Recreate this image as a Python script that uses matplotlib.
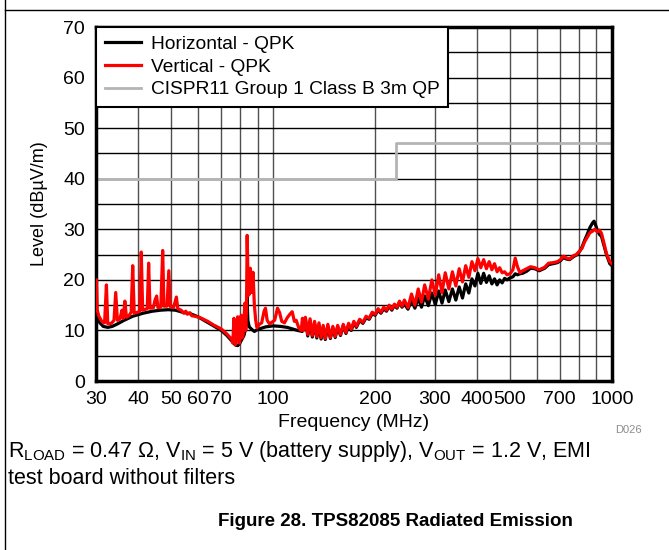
import numpy as np
import matplotlib
matplotlib.use("Agg")
import matplotlib.pyplot as plt
from matplotlib.ticker import NullFormatter
from matplotlib.lines import Line2D

# ---- data ----
h_freq = [30.0, 30.3, 30.8, 31.5, 32.5, 33.5, 34.5, 36.3, 38.5, 41.3, 44.0, 46.5, 49.0,
          51.5, 54.0, 57.0, 60.0, 64.0, 67.0, 70.3, 73.0, 75.3, 77.4, 78.6, 79.6, 80.5,
          82.0, 83.0, 83.7, 84.2, 85.0, 86.5, 88.0, 90.0, 95.0, 100, 105, 110, 114, 118,
          121.9, 124.5, 126.5, 128.5, 130.5, 132.5, 134.5, 136.5, 138.5, 140.5, 142.5,
          145.0, 147.5, 150.0, 152.5, 155.0, 158.0, 161.0, 164.0, 167.0, 170.0, 173.0,
          176.0, 180.0, 184.0, 188.0, 192.0, 196.0, 200.0, 204.0, 208.0, 212.0, 216.0,
          220.0, 224.0, 228.0, 232.0, 236.0, 240.0, 244, 250, 256, 262, 268, 274, 280,
          287, 294, 301, 308, 315, 322, 330, 338, 346, 354, 362, 370, 378, 386, 394, 402,
          410, 418, 426, 434, 442, 450, 458, 466, 474, 482, 490, 500, 510, 518, 526, 535,
          545, 560, 575, 592, 610, 633, 650, 670, 690, 705, 718, 735, 750, 770, 785, 800,
          815, 830, 845, 860, 875, 885, 895, 905, 918, 931, 945, 963, 985, 1000]
h_level = [14.0, 12.8, 11.5, 10.8, 10.6, 10.8, 11.2, 12.0, 12.8, 13.4, 13.8, 14.0, 14.1,
           14.0, 13.6, 13.3, 12.7, 11.6, 10.8, 10.0, 9.0, 8.0, 7.1, 7.0, 7.4, 8.0,
           9.0, 10.5, 16.7, 12.0, 10.7, 10.2, 9.8, 10.2, 10.7, 10.9, 10.8, 10.6, 10.3, 10.0,
           9.8, 12.2, 8.9, 11.8, 8.7, 11.4, 8.5, 11.0, 8.3, 10.6, 8.2,
           10.8, 8.4, 10.5, 8.6, 10.7, 9.0, 10.9, 9.4, 11.1, 10.0, 11.5,
           10.6, 12.0, 11.4, 12.5, 12.2, 13.3, 13.0, 14.0, 13.4, 14.3, 13.8,
           14.8, 14.0, 15.0, 14.4, 15.6, 14.6, 15.2, 14.2, 16.0, 14.4, 16.4, 14.6, 16.8,
           14.9, 17.4, 15.1, 17.8, 15.4, 18.0, 15.7, 18.2, 16.0, 18.6, 16.4, 19.2, 17.4, 20.2, 18.8, 21.3,
           19.3, 21.3, 19.5, 20.8, 19.2, 20.2, 19.0, 20.0, 19.4, 20.3, 20.0, 20.4, 20.6, 21.2, 21.0, 21.2,
           21.3, 21.7, 22.3, 22.2, 21.8, 22.3, 23.0, 23.2, 23.4, 23.8, 24.4, 24.1, 24.0, 24.6, 24.9, 25.5,
           26.4, 27.8, 29.0, 30.3, 31.2, 31.6, 30.8, 29.8, 29.0, 28.6, 27.0, 25.0, 23.2, 22.8]

v_freq = [30.0, 30.1, 30.25, 30.6, 31.2, 31.8, 32.2, 32.5, 33.3, 33.9, 34.3, 34.7, 35.3,
          35.8, 36.1, 36.5, 36.9, 37.6, 38.1, 38.5, 38.9, 39.8, 40.4, 40.8, 41.2, 42.0,
          42.5, 42.9, 43.3, 44.3, 44.8, 45.3, 45.7, 46.6, 47.2, 47.6, 48.6, 49.2, 49.7,
          50.8, 51.8, 52.3, 53.5, 54.5, 55.2, 55.8, 56.8, 57.5, 58.8, 61.0, 64.1, 67.0,
          70.3, 73.0, 75.3, 76.0, 76.6, 77.0, 77.4, 78.0, 78.6, 79.0, 79.6, 80.1, 80.5,
          81.0, 81.5, 82.0, 82.5, 83.0, 83.4, 83.8, 84.2, 84.8, 85.6, 86.3, 87.2, 88.0,
          88.8, 89.6, 91.0, 92.5, 94.0, 94.9, 96.0, 97.5, 99.0, 101.0, 103.0, 104.5, 106.0,
          108.0, 110.0, 112.0, 113.8, 115.5, 117.0, 119.0, 121.0, 122.0, 123.0, 124.5,
          126.5, 128.5, 130.5, 132.5, 134.5, 136.5, 138.5, 140.5, 142.5, 145.0, 147.5,
          150.0, 152.5, 155.0, 158.0, 161.0, 164.0, 167.0, 170.0, 173.0, 176.0, 180.0,
          184.0, 188.0, 192.0, 196.0, 200.0, 204.0, 208.0, 212.0, 216.0, 220.0, 224.0,
          228.0, 232.0, 236.0, 240.0, 244, 250, 256, 262, 268, 274, 280, 287, 294, 301,
          308, 315, 322, 330, 338, 346, 354, 362, 370, 378, 386, 394, 402, 410, 418, 426,
          434, 442, 450, 458, 466, 474, 482, 490, 500, 510, 518, 526, 535, 545, 560, 575,
          592, 610, 633, 650, 670, 690, 705, 718, 735, 750, 770, 785, 800, 815, 830, 845,
          860, 875, 890, 905, 918, 931, 945, 963, 985, 1000]
v_level = [14.5, 20.0, 14.0, 12.8, 11.8, 11.5, 19.0, 11.3, 11.4, 12.0, 17.5, 12.0, 12.3,
           14.0, 12.4, 15.8, 12.6, 13.0, 13.6, 22.8, 13.4, 13.6, 13.8, 25.5, 14.0, 14.2,
           14.3, 23.3, 14.4, 14.5, 16.0, 16.8, 14.5, 14.6, 25.8, 14.8, 14.8, 21.8, 14.7,
           14.5, 16.6, 14.3, 14.0, 13.4, 13.8, 13.2, 13.5, 12.9, 12.8, 12.5, 11.8, 11.0,
           10.3, 9.3, 8.3, 7.5, 12.4, 8.0, 7.2, 8.0, 12.7, 8.5, 7.5, 12.0, 13.0,
           8.5, 9.0, 12.0, 15.4, 10.0, 14.0, 28.8, 22.0, 17.0, 22.3, 17.5, 21.5, 15.0,
           12.0, 10.5, 11.2, 11.5, 13.8, 14.4, 12.0, 11.3, 11.6, 12.0, 14.4, 13.5, 11.8,
           11.5, 12.5, 13.2, 13.7, 11.8, 12.0, 10.5, 10.0, 12.4, 10.0, 12.6,
           9.2, 12.3, 9.0, 11.8, 8.8, 11.5, 8.6, 11.0, 8.4, 11.2, 8.6,
           10.8, 8.8, 11.0, 9.2, 11.2, 9.6, 11.4, 10.2, 11.8, 10.8, 12.2,
           11.6, 12.8, 12.4, 13.6, 13.2, 14.3, 13.6, 14.6, 14.0, 15.0, 14.2,
           15.2, 14.6, 15.8, 14.8, 16.0, 14.5, 17.2, 15.0, 18.2, 15.6, 19.0, 16.2, 20.0, 17.0,
           21.0, 17.5, 21.4, 18.2, 21.6, 18.8, 22.2, 19.6, 22.8, 20.5, 23.6, 21.8, 24.2, 22.4, 24.0, 22.2,
           23.6, 22.0, 23.2, 21.6, 22.4, 21.4, 21.6, 21.0, 21.2, 22.0, 24.3, 22.6, 21.4, 21.8, 22.2, 22.6,
           22.4, 22.0, 22.5, 23.3, 23.4, 23.6, 24.0, 24.7, 24.3, 24.1, 24.8, 25.0, 25.6, 26.2, 27.5, 28.4,
           29.3, 29.6, 30.0, 29.5, 29.8, 29.2, 27.5, 25.2, 23.6, 23.2]

limit_freq = [30, 230, 230, 1000]
limit_level = [40, 40, 47, 47]

xtick_vals = [30, 40, 50, 60, 70, 100, 200, 300, 400, 500, 700, 1000]
xtick_labels = ['30', '40', '50', '60', '70', '100', '200', '300', '400', '500', '700', '1000']
xgrid_minor = [80, 90, 600, 800, 900]

plt.rcParams['font.family'] = ['Liberation Sans', 'DejaVu Sans']
plt.rcParams['mathtext.fontset'] = 'custom'
plt.rcParams['mathtext.rm'] = 'Liberation Sans'

fig = plt.figure(figsize=(6.69, 5.50), dpi=100)
ax = fig.add_axes([96 / 669, 1 - 381 / 550, 516 / 669, 354 / 550])

ax.plot(h_freq, h_level, color='black', lw=2.3, label='Horizontal - QPK', zorder=3)
ax.plot(v_freq, v_level, color='#ff0000', lw=2.3, label='Vertical - QPK', zorder=4)
ax.plot(limit_freq, limit_level, color='#b4b4b4', lw=2.0,
        label='CISPR11 Group 1 Class B 3m QP', zorder=2)

ax.set_xscale('log')
ax.set_xlim(30, 1000)
ax.set_ylim(0, 70)
ax.set_xticks(xtick_vals)
ax.set_xticklabels(xtick_labels)
ax.set_xticks(xgrid_minor, minor=True)
ax.xaxis.set_minor_formatter(NullFormatter())
ax.set_yticks(range(0, 71, 10))
ax.set_yticks(range(5, 70, 10), minor=True)
ax.tick_params(which='both', length=0, labelsize=14)
ax.tick_params(axis='y', pad=8)
ax.tick_params(axis='x', pad=7)

ax.grid(axis='x', which='both', color='#505050', lw=1.0)
ax.grid(axis='y', which='both', color='black', lw=1.0)
ax.set_axisbelow(True)
for s in ax.spines.values():
    s.set_linewidth(2.5)

ax.set_xlabel('Frequency (MHz)', fontsize=14)
ax.set_ylabel('Level (dBµV/m)', fontsize=13)
ax.xaxis.set_label_coords(0.5, -0.093)
ax.yaxis.set_label_coords(-0.093, 0.5)

leg = ax.legend(loc='upper left', fontsize=13.8, frameon=True, fancybox=False,
                borderaxespad=0, handlelength=1.9, borderpad=0.45,
                labelspacing=0.27, handletextpad=0.5)
leg.get_frame().set_edgecolor('black')
leg.get_frame().set_linewidth(1.5)
leg.get_frame().set_alpha(1)

fig.text(628 / 669, 1 - 430 / 550, 'D026', fontsize=8, color='#8c8c8c',
         ha='center', va='center')
fig.text(8 / 669, 1 - 452 / 550,
         r'R$_{\mathregular{LOAD}}$ = 0.47 Ω, V$_{\mathregular{IN}}$ = 5 V (battery supply), '
         r'V$_{\mathregular{OUT}}$ = 1.2 V, EMI',
         fontsize=15.5, ha='left', va='center')
fig.text(8 / 669, 1 - 478 / 550, 'test board without filters',
         fontsize=15.5, ha='left', va='center')
fig.text(395 / 669, 1 - 522 / 550, 'Figure 28. TPS82085 Radiated Emission',
         fontsize=13.5, fontweight='bold', ha='center', va='center')

# page frame lines
fig.add_artist(Line2D([5 / 669, 1], [1 - 10 / 550, 1 - 10 / 550], color='black', lw=1))
fig.add_artist(Line2D([5 / 669, 5 / 669], [0, 1], color='black', lw=1))

fig.savefig('out.png', dpi=100)
